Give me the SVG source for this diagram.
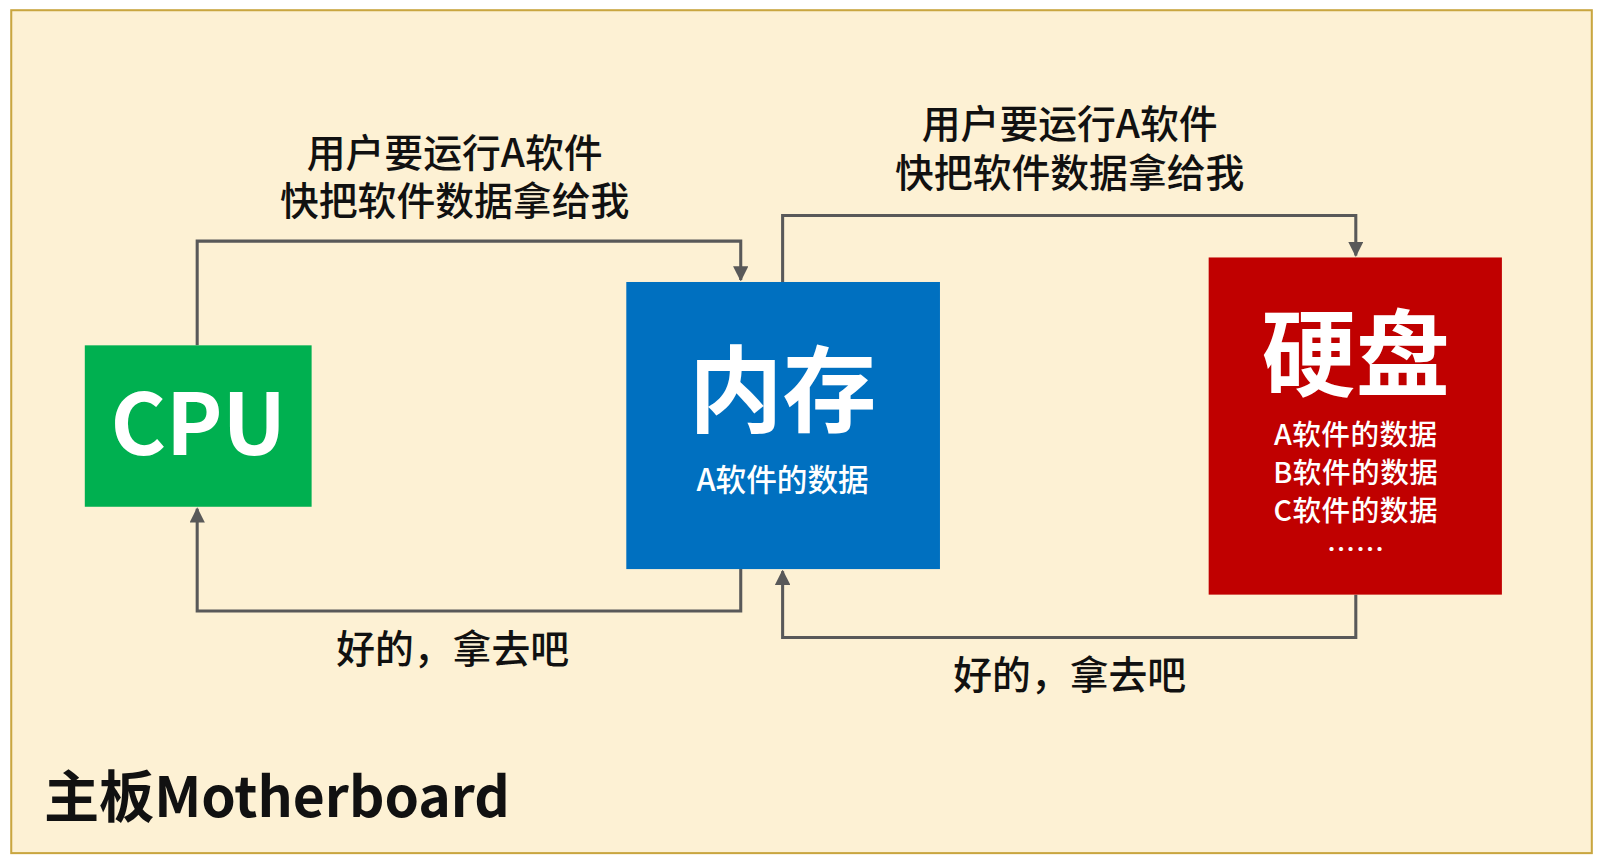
<svg xmlns="http://www.w3.org/2000/svg" width="1602" height="861" viewBox="0 0 1602 861">
<defs>
<style>
text{font-family:"Noto Sans CJK SC","Noto Sans",sans-serif;text-anchor:middle}
.lbl{font-size:38px;fill:#111;font-weight:500}
.w{fill:#fff;font-weight:bold}
.s{font-size:30px;fill:#fff;font-weight:500}
.d{font-size:28px;fill:#fff;font-weight:500;letter-spacing:0.5px}
.c{fill:none;stroke:#595959;stroke-width:3;marker-end:url(#a)}
</style>
<marker id="a" viewBox="0 0 10 10" refX="9" refY="5" markerWidth="5" markerHeight="5" orient="auto"><path d="M0,0L10,5L0,10z" fill="#595959"/></marker>
</defs>
<rect x="0" y="0" width="1602" height="861" fill="#fff"/>
<g transform="scale(1.0217)">
<rect id="board" x="11" y="10" width="1547" height="825" fill="#FDF1D4" stroke="#C9A640" stroke-width="2"/>
<g id="connectors">
<path class="c" d="M193,338V236H725V274"/>
<path class="c" d="M725,557V598H193V498"/>
<path class="c" d="M766,276V211H1327V250"/>
<path class="c" d="M1327,582V624H766V559"/>
</g>
<g id="cpu"><rect x="83" y="338" width="222" height="158" fill="#00B050"/><text class="w" x="194" y="445" font-size="83">CPU</text></g>
<g id="mem"><rect x="613" y="276" width="307" height="281" fill="#0070C0"/><text class="w" x="766" y="416" font-size="92">内存</text><text class="s" x="766" y="481">A软件的数据</text></g>
<g id="disk"><rect x="1183" y="252" width="287" height="330" fill="#C00000"/><text class="w" x="1327" y="381" font-size="92">硬盘</text><text class="d" x="1327" y="436">A软件的数据</text><text class="d" x="1327" y="473">B软件的数据</text><text class="d" x="1327" y="510">C软件的数据</text><text class="d" x="1327" y="548" font-size="18">……</text></g>
<g id="labels">
<text class="lbl" x="445" y="163">用户要运行A软件</text>
<text class="lbl" x="445" y="210">快把软件数据拿给我</text>
<text class="lbl" x="1047" y="135">用户要运行A软件</text>
<text class="lbl" x="1047" y="183">快把软件数据拿给我</text>
<text class="lbl" x="443" y="649">好的，拿去吧</text>
<text class="lbl" x="1047" y="674">好的，拿去吧</text>
<text x="43" y="800" font-size="54" font-weight="bold" fill="#111" style="text-anchor:start">主板Motherboard</text>
</g>
</g>
</svg>
